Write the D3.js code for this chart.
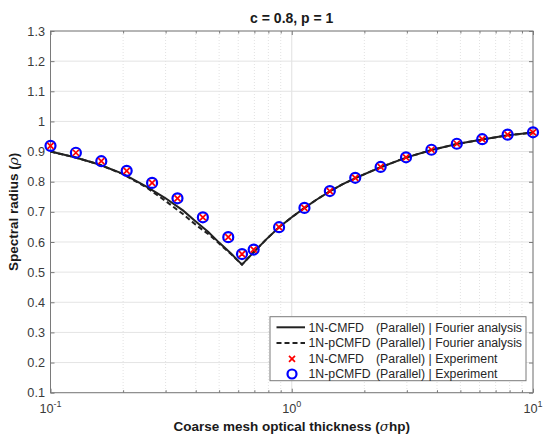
<!DOCTYPE html>
<html><head><meta charset="utf-8">
<script src="https://cdn.jsdelivr.net/npm/d3@7"></script>
<style>
html,body{margin:0;padding:0;background:#fff;}
svg{display:block;font-family:"Liberation Sans",Arial,sans-serif;}
</style></head>
<body><svg id="chart" width="543" height="435"></svg>
<script>
// ---- data ----
const titleText = "c = 0.8, p = 1";
const yTicks = [0.1,0.2,0.3,0.4,0.5,0.6,0.7,0.8,0.9,1.0,1.1,1.2,1.3];
const yTickLabels = ["0.1","0.2","0.3","0.4","0.5","0.6","0.7","0.8","0.9","1","1.1","1.2","1.3"];
const xMajor = [0.1,1,10];
const xMajorExp = ["-1","0","1"];
const xMinor = [0.2,0.3,0.4,0.5,0.6,0.7,0.8,0.9,2,3,4,5,6,7,8,9];

// Fourier analysis curves (optical thickness, spectral radius)
const fourierX = [0.1,0.126,0.158,0.2,0.251,0.3,0.355,0.4,0.45,0.5,0.56,0.622,0.695,0.78,0.886,1.0,1.129,1.27,1.438,1.62,1.833,2.336,2.976,3.793,4.833,6.158,7.848,10];
const cmfdFourier  = [0.900,0.881,0.858,0.826,0.783,0.745,0.704,0.668,0.634,0.598,0.562,0.525,0.566,0.607,0.649,0.682,0.713,0.741,0.768,0.791,0.812,0.848,0.880,0.905,0.925,0.940,0.954,0.963];
const pcmfdFourier = [0.900,0.881,0.858,0.825,0.780,0.736,0.692,0.657,0.627,0.595,0.560,0.525,0.566,0.607,0.649,0.682,0.713,0.741,0.768,0.791,0.812,0.848,0.880,0.905,0.925,0.940,0.954,0.963];

// Experiments
const expX = [0.1,0.1274,0.1624,0.2069,0.2637,0.336,0.4281,0.5456,0.622,0.6952,0.8859,1.1288,1.4384,1.833,2.3357,2.9764,3.7927,4.8329,6.1585,7.8476,10];
const cmfdExp  = [0.919,0.896,0.868,0.836,0.796,0.745,0.682,0.616,0.560,0.575,0.649,0.713,0.769,0.813,0.849,0.881,0.906,0.926,0.941,0.956,0.964];
const pcmfdExp = [0.919,0.896,0.868,0.836,0.796,0.745,0.682,0.616,0.560,0.575,0.649,0.713,0.769,0.813,0.849,0.881,0.906,0.926,0.941,0.956,0.964];

const legendNames = ["1N-CMFD","1N-pCMFD","1N-CMFD","1N-pCMFD"];
const legendTails = ["(Parallel) | Fourier analysis","(Parallel) | Fourier analysis","(Parallel) | Experiment","(Parallel) | Experiment"];

// ---- layout ----
const L = 50.5, R = 533, T = 31, B = 392.7;
const svg = d3.select("#chart");
const x = d3.scaleLog().domain([0.1,10]).range([L,R]);
const y = d3.scaleLinear().domain([0.1,1.3]).range([B,T]);
const axisCol = "#7a7a7a", txtCol = "#3a3a3a";

// grid: minor x (dotted)
svg.append("g").selectAll("line").data(xMinor).join("line")
  .attr("x1",d=>x(d)).attr("x2",d=>x(d)).attr("y1",T).attr("y2",B)
  .attr("stroke","#e2e2e2").attr("stroke-width",1).attr("stroke-dasharray","1,2");
// major grid
svg.append("g").selectAll("line").data(xMajor).join("line")
  .attr("x1",d=>x(d)).attr("x2",d=>x(d)).attr("y1",T).attr("y2",B)
  .attr("stroke","#e0e0e0").attr("stroke-width",1);
svg.append("g").selectAll("line").data(yTicks).join("line")
  .attr("x1",L).attr("x2",R).attr("y1",d=>y(d)).attr("y2",d=>y(d))
  .attr("stroke","#e4e4e4").attr("stroke-width",1);

// axes with d3 axis (inward ticks)
const yAxisL = d3.axisLeft(y).tickValues(yTicks).tickFormat((d,i)=>yTickLabels[i]).tickSizeInner(-4).tickSizeOuter(0).tickPadding(5.5);
const gyl = svg.append("g").attr("transform",`translate(${L},0)`).call(yAxisL);
const yAxisR = d3.axisRight(y).tickValues(yTicks).tickFormat("").tickSizeInner(-4).tickSizeOuter(0);
const gyr = svg.append("g").attr("transform",`translate(${R},0)`).call(yAxisR);
const xAxisB = d3.axisBottom(x).tickValues(xMajor).tickFormat("").tickSizeInner(-4).tickSizeOuter(0);
const gxb = svg.append("g").attr("transform",`translate(0,${B})`).call(xAxisB);
const xAxisBm = d3.axisBottom(x).tickValues(xMinor).tickFormat("").tickSizeInner(-2.5).tickSizeOuter(0);
const gxbm = svg.append("g").attr("transform",`translate(0,${B})`).call(xAxisBm);
const xAxisT = d3.axisTop(x).tickValues(xMajor).tickFormat("").tickSizeInner(-4).tickSizeOuter(0);
const gxt = svg.append("g").attr("transform",`translate(0,${T})`).call(xAxisT);
const xAxisTm = d3.axisTop(x).tickValues(xMinor).tickFormat("").tickSizeInner(-2.5).tickSizeOuter(0);
const gxtm = svg.append("g").attr("transform",`translate(0,${T})`).call(xAxisTm);
[gyl,gyr,gxb,gxbm,gxt,gxtm].forEach(g=>{
  g.select(".domain").remove();
  g.selectAll("line").attr("stroke",axisCol);
  g.selectAll("text").attr("fill",txtCol).attr("font-size","12.7px").attr("font-family","Liberation Sans, Arial, sans-serif");
});
// box
svg.append("rect").attr("x",L).attr("y",T).attr("width",R-L).attr("height",B-T)
  .attr("fill","none").attr("stroke",axisCol).attr("stroke-width",1);

// x tick labels 10^n
const xl = svg.append("g").selectAll("text").data(xMajor).join("text")
  .attr("x",d=>x(d)).attr("y",B+20.5).attr("text-anchor","middle")
  .attr("fill",txtCol).attr("font-size","12.7px");
xl.append("tspan").text("10");
xl.append("tspan").attr("dy",-6.5).attr("font-size","9px").text((d,i)=>xMajorExp[i]);

// lines
const line = arr => d3.line().x((d,i)=>x(fourierX[i])).y(d=>y(d))(arr);
svg.append("path").attr("d",line(cmfdFourier)).attr("fill","none")
  .attr("stroke","#222").attr("stroke-width",2);
svg.append("path").attr("d",line(pcmfdFourier)).attr("fill","none")
  .attr("stroke","#222").attr("stroke-width",2).attr("stroke-dasharray","5,3");

// markers
svg.append("g").selectAll("circle").data(pcmfdExp).join("circle")
  .attr("cx",(d,i)=>x(expX[i])).attr("cy",d=>y(d)).attr("r",5)
  .attr("fill","none").attr("stroke","#0000ff").attr("stroke-width",2.2);
const cross = (cx,cy,s)=>`M${cx-s},${cy-s}L${cx+s},${cy+s}M${cx-s},${cy+s}L${cx+s},${cy-s}`;
svg.append("g").selectAll("path").data(cmfdExp).join("path")
  .attr("d",(d,i)=>cross(x(expX[i]),y(d),3))
  .attr("stroke","#ff0000").attr("stroke-width",1.7).attr("fill","none");

// title and labels
svg.append("text").attr("x",(L+R)/2).attr("y",23).attr("text-anchor","middle")
  .attr("font-weight","bold").attr("font-size","14px").attr("fill","#1a1a1a").text(titleText);
const xlab = svg.append("text").attr("x",(L+R)/2).attr("y",431).attr("text-anchor","middle")
  .attr("font-weight","bold").attr("font-size","13.5px").attr("fill","#1a1a1a");
xlab.append("tspan").text("Coarse mesh optical thickness (");
xlab.append("tspan").attr("font-style","italic").attr("font-weight","normal").attr("font-family","DejaVu Serif, serif").text("σ");
xlab.append("tspan").text("hp)");
const ylab = svg.append("text").attr("transform",`translate(18,${(T+B)/2}) rotate(-90)`).attr("text-anchor","middle")
  .attr("font-weight","bold").attr("font-size","13.5px").attr("fill","#1a1a1a");
ylab.append("tspan").text("Spectral radius (");
ylab.append("tspan").attr("font-style","italic").attr("font-weight","normal").attr("font-family","DejaVu Serif, serif").text("ρ");
ylab.append("tspan").text(")");

// legend
const lg = svg.append("g");
lg.append("rect").attr("x",270).attr("y",316.7).attr("width",256).attr("height",64)
  .attr("fill","#fff").attr("stroke",axisCol).attr("stroke-width",1);
const rowY = [327.3,343,358.8,374];
legendNames.forEach((nm,i)=>{
  const ry = rowY[i];
  if(i===0) lg.append("line").attr("x1",276.5).attr("x2",305).attr("y1",ry).attr("y2",ry).attr("stroke","#222").attr("stroke-width",2);
  if(i===1) lg.append("line").attr("x1",276.5).attr("x2",305).attr("y1",ry).attr("y2",ry).attr("stroke","#222").attr("stroke-width",2).attr("stroke-dasharray","5,3");
  if(i===2) lg.append("path").attr("d",cross(292,ry,3)).attr("stroke","#ff0000").attr("stroke-width",1.7);
  if(i===3) lg.append("circle").attr("cx",292).attr("cy",ry).attr("r",4.5).attr("fill","none").attr("stroke","#0000ff").attr("stroke-width",2.2);
  lg.append("text").attr("x",308.5).attr("y",ry+4.3).attr("font-size","12.3px").attr("fill","#262626").text(nm);
  lg.append("text").attr("x",376).attr("y",ry+4.3).attr("font-size","12.3px").attr("fill","#262626").text(legendTails[i]);
});
</script></body></html>
